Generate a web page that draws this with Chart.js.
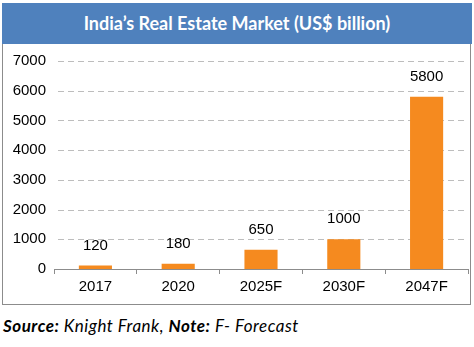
<!DOCTYPE html>
<html>
<head>
<meta charset="utf-8">
<script src="https://cdn.jsdelivr.net/npm/chart.js@4"></script>
<style>
  html, body { margin: 0; padding: 0; background: #fff; }
  body { width: 474px; height: 347px; position: relative; overflow: hidden; }
  #banner {
    position: absolute; left: 2px; top: 3px; width: 470px; height: 41px;
    background: #4F81BD; color: #fff; font-family: Lato, "Open Sans", sans-serif;
    font-weight: bold; font-size: 18px; line-height: 41px; text-align: center;
  }
  #box {
    position: absolute; left: 2px; top: 44px; width: 467px; height: 260px;
    border: 1px solid #8c8c8c; border-top: none;
  }
  #chartWrap { position: absolute; left: 0; top: 0; width: 467px; height: 260px; }
  #source {
    position: absolute; left: 3px; top: 315px; font-family: Lato, "Open Sans", sans-serif;
    font-style: italic; font-size: 17px; letter-spacing: 0.5px; color: #000; white-space: nowrap;
  }
</style>
</head>
<body>
<div id="banner">India’s Real Estate Market (US$ billion)</div>
<div id="box"><div id="chartWrap"><canvas id="c" width="467" height="260"></canvas></div></div>
<div id="source"><b>Source:</b> Knight Frank, <b>Note:</b> F- Forecast</div>
<script>
const categories = ["2017", "2020", "2025F", "2030F", "2047F"];
const marketValues = [120, 180, 650, 1000, 5800];
const yTicks = [0, 1000, 2000, 3000, 4000, 5000, 6000, 7000];

const FONT = 'Liberation Sans, Arial, sans-serif';

const dashedGrid = {
  id: 'dashedGrid',
  beforeDatasetsDraw(chart) {
    const ctx = chart.ctx;
    const y = chart.scales.y;
    const area = chart.chartArea;
    ctx.save();
    ctx.strokeStyle = '#bdbdbd';
    ctx.lineWidth = 1;
    ctx.setLineDash([6, 4]);
    yTicks.forEach(v => {
      if (v === 0) return;
      const py = Math.round(y.getPixelForValue(v)) + 0.5;
      ctx.beginPath();
      ctx.moveTo(area.left + 4, py);
      ctx.lineTo(area.right, py);
      ctx.stroke();
    });
    ctx.restore();
  }
};

const valueLabels = {
  id: 'valueLabels',
  afterDatasetsDraw(chart) {
    const ctx = chart.ctx;
    const meta = chart.getDatasetMeta(0);
    ctx.save();
    ctx.font = '15px ' + FONT;
    ctx.fillStyle = '#000';
    ctx.textAlign = 'center';
    ctx.textBaseline = 'middle';
    meta.data.forEach((bar, i) => {
      ctx.fillText(String(marketValues[i]), bar.x, bar.y - 20);
    });
    ctx.restore();
  }
};

new Chart(document.getElementById('c'), {
  type: 'bar',
  data: {
    labels: categories,
    datasets: [{
      data: marketValues,
      backgroundColor: '#F58A1F',
      borderWidth: 0,
      categoryPercentage: 1,
      barPercentage: 0.4
    }]
  },
  options: {
    responsive: false,
    animation: false,
    layout: { padding: { top: 11, right: 2, left: 0, bottom: 0 } },
    plugins: { legend: { display: false }, tooltip: { enabled: false }, title: { display: false } },
    scales: {
      y: {
        min: 0, max: 7000,
        afterBuildTicks(scale) { scale.ticks = yTicks.map(v => ({ value: v })); },
        afterFit(scale) { scale.width = 51; },
        border: { display: false },
        grid: { display: false, drawTicks: false },
        ticks: {
          padding: 8, color: '#000',
          font: { family: FONT, size: 15 },
          callback: (v) => String(v)
        }
      },
      x: {
        afterFit(scale) { scale.height = 35; },
        border: { display: true, color: '#8c8c8c', width: 1 },
        grid: { drawOnChartArea: false, drawTicks: true, tickLength: 5, color: '#8c8c8c', offset: true },
        ticks: {
          padding: 4, color: '#000',
          font: { family: FONT, size: 15 }
        }
      }
    }
  },
  plugins: [dashedGrid, valueLabels]
});
</script>
</body>
</html>
